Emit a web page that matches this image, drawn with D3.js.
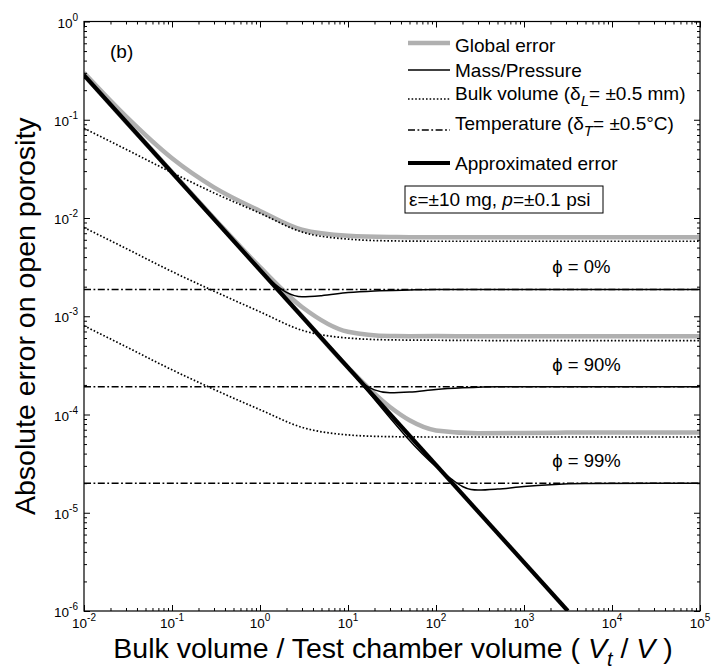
<!DOCTYPE html>
<html><head><meta charset="utf-8">
<script src="https://cdn.jsdelivr.net/npm/d3@7"></script>
<style>
body{margin:0;background:#fff}
svg{display:block}
text{font-family:"Liberation Sans",Arial,Helvetica,sans-serif;fill:#000}
</style>
</head><body>
<svg id="chart" width="714" height="670"></svg>
<script>
// ---------------- data ----------------
const xDecades = [-2, -1, 0, 1, 2, 3, 4, 5];
const yDecades = [0, -1, -2, -3, -4, -5, -6];

// Approximated error (straight line on log-log)
const xApprox = [0.01, 3150];
const yApprox = [0.285, 1.0e-6];

// Mass/Pressure error for each porosity
const xMass0  = [0.01, 0.1, 0.5, 1, 1.5, 2, 3, 5, 10, 20, 50, 100, 1e5];
const yMass0  = [0.285, 0.029, 5.9e-3, 2.95e-3, 2.1e-3, 1.75e-3, 1.58e-3, 1.62e-3, 1.74e-3, 1.81e-3, 1.85e-3, 1.87e-3, 1.87e-3];
const xMass90 = [0.01, 0.1, 1, 5, 10, 15, 20, 30, 50, 100, 200, 500, 1e5];
const yMass90 = [0.285, 0.029, 2.95e-3, 5.9e-4, 2.95e-4, 2.05e-4, 1.78e-4, 1.66e-4, 1.69e-4, 1.8e-4, 1.87e-4, 1.92e-4, 1.92e-4];
const xMass99 = [0.01, 0.1, 1, 10, 100, 150, 200, 250, 300, 500, 1000, 2000, 5000, 1e5];
const yMass99 = [0.285, 0.029, 2.95e-3, 2.95e-4, 2.95e-5, 2.2e-5, 1.85e-5, 1.72e-5, 1.7e-5, 1.74e-5, 1.85e-5, 1.93e-5, 1.98e-5, 2.0e-5];

// Bulk volume error
const xBulk   = [0.01, 0.03, 0.1, 0.3, 1, 3, 10, 30, 100, 1000, 1e5];
const yBulk0  = [0.082, 0.050, 0.029, 0.0180, 0.0112, 7.2e-3, 6.1e-3, 5.85e-3, 5.8e-3, 5.8e-3, 5.8e-3];
const yBulk90 = [8.0e-3, 4.9e-3, 2.85e-3, 1.80e-3, 1.11e-3, 7.2e-4, 6.0e-4, 5.75e-4, 5.7e-4, 5.65e-4, 5.65e-4];
const yBulk99 = [8.0e-4, 4.9e-4, 2.85e-4, 1.80e-4, 1.12e-4, 7.4e-5, 6.2e-5, 5.95e-5, 5.9e-5, 5.9e-5, 5.9e-5];

// Temperature error (constant)
const xTemp = [0.01, 1e5];
const yTemp = [1.87e-3, 1.92e-4, 2.0e-5];

// Global error
const xGlobal   = [0.01, 0.03, 0.1, 0.3, 1, 3, 10, 30, 50, 100, 300, 1000, 3000, 1e5];
const yGlobal0  = [0.30, 0.108, 0.0405, 0.0205, 0.0118, 7.6e-3, 6.6e-3, 6.4e-3, 6.38e-3, 6.37e-3, 6.37e-3, 6.37e-3, 6.37e-3, 6.37e-3];
const yGlobal90 = [0.286, 0.0957, 0.0292, 9.95e-3, 3.16e-3, 1.243e-3, 6.96e-4, 6.29e-4, 6.27e-4, 6.28e-4, 6.27e-4, 6.26e-4, 6.26e-4, 6.26e-4];
const yGlobal99 = [0.286, 0.0956, 0.0291, 9.8e-3, 2.96e-3, 9.98e-4, 3.01e-4, 1.19e-4, 8.73e-5, 6.89e-5, 6.46e-5, 6.5e-5, 6.54e-5, 6.54e-5];

// Porosity annotations
const phiLabels = ["\u03D5 = 0%", "\u03D5 = 90%", "\u03D5 = 99%"];
const phiLabelX = 2100;
const phiLabelY = [2.75e-3, 2.8e-4, 2.9e-5];

// ---------------- layout ----------------
const L = 84, R = 700, T = 21.5, B = 611;

const svg = d3.select("#chart");
const x = d3.scaleLog().domain([1e-2, 1e5]).range([L, R]);
const y = d3.scaleLog().domain([1e-6, 1]).range([B, T]);

svg.append("defs").append("clipPath").attr("id", "clip")
  .append("rect").attr("x", L).attr("y", T).attr("width", R - L).attr("height", B - T);

const zip = (xs, ys) => xs.map((v, i) => [v, ys[i]]);
const line = d3.line().x(d => x(d[0])).y(d => y(d[1])).curve(d3.curveMonotoneX);
const plot = svg.append("g").attr("clip-path", "url(#clip)");

const styles = {
  global: {stroke: "#b0b0b0", width: 4.5, dash: null},
  mass:   {stroke: "#000", width: 1.5, dash: null},
  bulk:   {stroke: "#000", width: 1.7, dash: "1.6,2.0"},
  temp:   {stroke: "#000", width: 1.5, dash: "7,2.5,1.8,2.5"},
  approx: {stroke: "#000", width: 4.2, dash: null}
};
function draw(data, st) {
  plot.append("path").datum(data).attr("d", line)
    .attr("fill", "none").attr("stroke", st.stroke).attr("stroke-width", st.width)
    .attr("stroke-dasharray", st.dash).attr("stroke-linejoin", "round");
}

[yGlobal0, yGlobal90, yGlobal99].forEach(ys => draw(zip(xGlobal, ys), styles.global));
[yBulk0, yBulk90, yBulk99].forEach(ys => draw(zip(xBulk, ys), styles.bulk));
yTemp.forEach(v => draw(zip(xTemp, [v, v]), styles.temp));
draw(zip(xMass0, yMass0), styles.mass);
draw(zip(xMass90, yMass90), styles.mass);
draw(zip(xMass99, yMass99), styles.mass);
draw(zip(xApprox, yApprox), styles.approx);

// ---------------- axes ----------------
const xMaj = xDecades.map(e => Math.pow(10, e));
const yMaj = yDecades.map(e => Math.pow(10, e));
const isMajor = v => Math.abs(Math.log10(v) - Math.round(Math.log10(v))) < 1e-9;
const xMin = x.ticks().filter(v => !isMajor(v));
const yMin = y.ticks().filter(v => !isMajor(v));

function axis(gen, scale, vals, size, tx, ty) {
  const g = svg.append("g").attr("transform", `translate(${tx},${ty})`)
    .call(gen(scale).tickValues(vals).tickSize(size).tickFormat(() => ""));
  g.select(".domain").remove();
  g.selectAll("line").attr("stroke", "#000").attr("stroke-width", 1);
}
axis(d3.axisBottom, x, xMaj, -6, 0, B);
axis(d3.axisBottom, x, xMin, -3, 0, B);
axis(d3.axisTop, x, xMaj, -6, 0, T);
axis(d3.axisTop, x, xMin, -3, 0, T);
axis(d3.axisLeft, y, yMaj, -6, L, 0);
axis(d3.axisLeft, y, yMin, -3, L, 0);
axis(d3.axisRight, y, yMaj, -6, R, 0);
axis(d3.axisRight, y, yMin, -3, R, 0);

svg.append("rect").attr("x", L).attr("y", T).attr("width", R - L).attr("height", B - T)
  .attr("fill", "none").attr("stroke", "#000").attr("stroke-width", 1.2);

// tick labels
xDecades.forEach(e => {
  const t = svg.append("text").attr("x", x(Math.pow(10, e))).attr("y", B + 17)
    .attr("text-anchor", "middle").attr("font-size", 13.5);
  t.append("tspan").text("10");
  t.append("tspan").attr("dy", -7).attr("font-size", 10).text(e);
});
yDecades.forEach(e => {
  const t = svg.append("text").attr("x", L - 6).attr("y", y(Math.pow(10, e)) + 6)
    .attr("text-anchor", "end").attr("font-size", 13.5);
  t.append("tspan").text("10");
  t.append("tspan").attr("dy", -7).attr("font-size", 10).text(e);
});

// axis titles
const xt = svg.append("text").attr("x", 393).attr("y", 658)
  .attr("text-anchor", "middle").attr("font-size", 28.5);
xt.append("tspan").text("Bulk volume / Test chamber volume ( ");
xt.append("tspan").attr("font-style", "italic").text("V");
xt.append("tspan").attr("font-style", "italic").attr("font-size", 20).attr("dy", 8).text("t");
xt.append("tspan").attr("dy", -8).text(" / ");
xt.append("tspan").attr("font-style", "italic").text("V");
xt.append("tspan").text(" )");

svg.append("text").attr("transform", `translate(35,${(T + B) / 2}) rotate(-90)`)
  .attr("text-anchor", "middle").attr("font-size", 28.5)
  .text("Absolute error on open porosity");

// panel tag
svg.append("text").attr("x", 110).attr("y", 58).attr("font-size", 19).text("(b)");

// legend
const legX0 = 408, legX1 = 450, legTx = 455;
const legend = [
  {key: "global", ly: 43},
  {key: "mass",   ly: 70},
  {key: "bulk",   ly: 99},
  {key: "temp",   ly: 130},
  {key: "approx", ly: 163}
];
legend.forEach(it => {
  const st = styles[it.key];
  svg.append("line").attr("x1", legX0).attr("x2", legX1).attr("y1", it.ly).attr("y2", it.ly)
    .attr("stroke", st.stroke).attr("stroke-width", st.width).attr("stroke-dasharray", st.dash);
});
function legText(ty) {
  return svg.append("text").attr("x", legTx).attr("y", ty).attr("font-size", 19);
}
legText(52).text("Global error");
legText(77).text("Mass/Pressure");
{
  const t = legText(100);
  t.append("tspan").text("Bulk volume (\u03B4");
  t.append("tspan").attr("font-style", "italic").attr("font-size", 15).attr("dy", 6).text("L");
  t.append("tspan").attr("dy", -6).text("= \u00B10.5 mm)");
}
{
  const t = legText(130);
  t.append("tspan").text("Temperature (\u03B4");
  t.append("tspan").attr("font-style", "italic").attr("font-size", 15).attr("dy", 6).text("T");
  t.append("tspan").attr("dy", -6).text("= \u00B10.5\u00B0C)");
}
legText(170).text("Approximated error");

// parameter box
svg.append("rect").attr("x", 405).attr("y", 186).attr("width", 198).attr("height", 27)
  .attr("fill", "#fff").attr("stroke", "#000").attr("stroke-width", 1);
{
  const t = svg.append("text").attr("x", 409).attr("y", 206).attr("font-size", 19);
  t.append("tspan").text("\u03B5=\u00B110 mg, ");
  t.append("tspan").attr("font-style", "italic").text("p");
  t.append("tspan").text("=\u00B10.1 psi");
}

// porosity labels
phiLabels.forEach((s, i) => {
  svg.append("text").attr("x", x(phiLabelX)).attr("y", y(phiLabelY[i]))
    .attr("font-size", 18.5).text(s);
});
</script>
</body></html>
